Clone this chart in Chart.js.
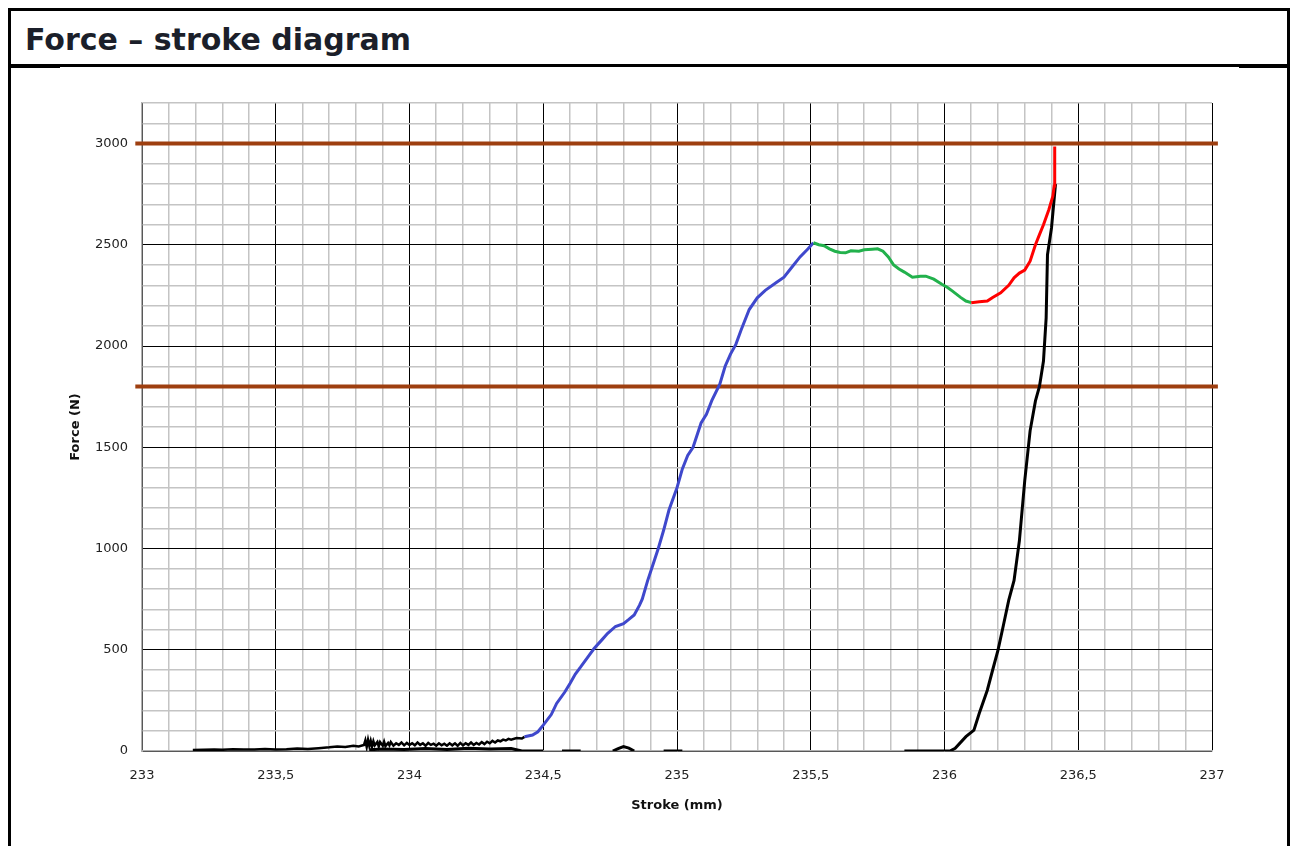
<!DOCTYPE html>
<html>
<head>
<meta charset="utf-8">
<script src="https://cdn.jsdelivr.net/npm/chart.js@4.4.1/dist/chart.umd.min.js"></script>
<style>
  html, body { margin: 0; padding: 0; background: #fff; }
  body { width: 1290px; height: 846px; position: relative; overflow: hidden; }
  .frame { position: absolute; left: 8px; top: 8px; width: 1276px; height: 850px;
           border-left: 3px solid #000; border-top: 3px solid #000; border-right: 3px solid #000; }
  .band { position: absolute; left: 11px; top: 64px; width: 1276px; height: 3px; background: #000; }
  .tick1 { position: absolute; left: 11px; top: 67px; width: 49px; height: 1px; background: #000; }
  .tick2 { position: absolute; left: 1239px; top: 67px; width: 48px; height: 1px; background: #000; }
  .title { position: absolute; left: 25px; top: 25px; font: bold 30px "DejaVu Sans", sans-serif;
           line-height: 1; color: #1b1f2a; white-space: nowrap; }
  #wrap { position: absolute; left: 12px; top: 68px; width: 1270px; height: 778px; }
</style>
</head>
<body>
<div class="frame"></div>
<div class="band"></div>
<div class="tick1"></div>
<div class="tick2"></div>
<div class="title">Force – stroke diagram</div>
<div id="wrap"><canvas id="c" width="1270" height="778"></canvas></div>
<script>
// ---- axis / tick data ----
const xLabelValues = [233, 233.5, 234, 234.5, 235, 235.5, 236, 236.5, 237];
const xTickLabels  = ['233', '233,5', '234', '234,5', '235', '235,5', '236', '236,5', '237'];
const yLabelValues = [0, 500, 1000, 1500, 2000, 2500, 3000];
const yTickLabels  = ['0', '500', '1000', '1500', '2000', '2500', '3000'];

// ---- limit lines (N) ----
const limitForces = [3000, 1800];
const limitStroke = [232.975, 237.022];

// ---- black: initial approach (near zero, noisy) ----
const strokeBase = [233.19,233.23,233.27,233.30,233.34,233.38,233.42,233.46,233.50,233.54,233.58,233.62,233.66,233.70,233.73,233.76,233.79,233.81,233.83,
  233.835,233.84,233.845,233.85,233.855,233.86,233.865,233.87,233.88,233.885,233.89,233.90,233.905,233.91,233.92,233.925,233.93,233.94,233.95,233.96,233.97,233.98,233.99,
  234.00,234.01,234.02,234.03,234.04,234.05,234.06,234.07,234.08,234.09,234.10,234.11,234.12,234.13,234.14,234.15,234.16,234.17,234.18,234.19,234.20,234.21,234.22,234.23,
  234.24,234.25,234.26,234.27,234.28,234.29,234.30,234.31,234.32,234.33,234.34,234.35,234.36,234.37,234.38,234.40,234.42,234.43];
const forceBase = [5,6,8,6,9,7,8,10,8,9,12,10,14,18,22,20,26,22,30,
  52,20,55,24,50,22,48,28,45,22,44,26,46,24,40,28,44,26,38,30,42,28,40,
  30,38,28,42,30,38,26,40,30,36,26,38,28,36,26,38,28,38,26,40,28,38,30,42,
  30,40,32,44,34,46,38,50,42,52,48,56,52,60,56,64,62,70];

// ---- blue: loading ----
const strokeBlue = [234.43,234.46,234.48,234.50,234.53,234.55,234.58,234.60,234.62,234.64,234.67,234.69,234.72,234.74,234.77,234.80,234.82,234.84,234.86,234.87,
  234.89,234.91,234.93,234.95,234.97,235.00,235.02,235.04,235.06,235.09,235.11,235.13,235.16,235.18,235.20,235.22,235.24,235.27,235.30,235.33,235.37,235.40,235.43,235.46,235.49,235.51];
const forceBlue = [70,79,95,128,180,235,290,333,380,415,470,506,550,580,615,629,650,672,720,750,
  840,920,1000,1090,1190,1300,1393,1460,1500,1620,1663,1730,1811,1900,1960,2008,2080,2180,2238,2275,2312,2340,2390,2440,2480,2510];

// ---- green ----
const strokeGreen = [235.51,235.53,235.55,235.57,235.59,235.61,235.63,235.65,235.68,235.70,235.73,235.75,235.77,235.79,235.81,235.83,235.85,235.88,235.91,235.93,235.96,235.99,236.01,236.03,236.06,236.08,236.10];
const forceGreen = [2510,2500,2495,2480,2468,2462,2460,2470,2468,2475,2478,2480,2468,2440,2400,2380,2365,2340,2345,2345,2330,2305,2290,2271,2240,2222,2214];

// ---- red ----
const strokeRed = [236.10,236.13,236.16,236.18,236.21,236.24,236.26,236.28,236.30,236.32,236.34,236.355,236.37,236.39,236.405,236.41,236.412,236.412];
const forceRed = [2214,2218,2222,2240,2263,2300,2337,2360,2375,2419,2500,2550,2599,2673,2740,2790,2894,2985];

// ---- black: return ----
const strokeReturn = [236.415,236.40,236.385,236.38,236.37,236.355,236.34,236.32,236.30,236.28,236.26,236.24,236.22,236.20,236.18,236.16,236.13,236.11,236.08,236.04,236.02,
  235.85,235.85,235.02,234.95,234.95,234.84,234.82,234.80,234.78,234.76,234.76,234.64,234.57,234.57,234.50,234.42,
  234.38,234.30,234.22,234.14,234.06,233.98,233.90,233.85];
const forceReturn = [2800,2583,2451,2139,1926,1800,1729,1581,1335,1039,842,744,620,498,400,300,186,103,71,13,0,
  0,null,0,0,null,0,14,22,12,0,null,0,0,null,0,0,
  12,10,14,8,12,8,10,6];

const pts = (xs, ys) => xs.map((x, i) => ({ x: x, y: ys[i] }));
const near = (v, arr) => arr.findIndex(a => Math.abs(a - v) < 1e-6);

const lineDs = (label, xs, ys, color, w) => ({
  label, data: pts(xs, ys), borderColor: color, backgroundColor: color,
  borderWidth: w, pointRadius: 0, showLine: true, tension: 0, spanGaps: false
});

const datasets = [
  lineDs('Red', strokeRed, forceRed, '#ff0000', 3),
  lineDs('Return', strokeReturn, forceReturn, '#000000', 3),
  lineDs('Green', strokeGreen, forceGreen, '#22b14c', 3),
  lineDs('Blue', strokeBlue, forceBlue, '#3f48cc', 3),
  lineDs('Base', strokeBase, forceBase, '#000000', 2.5),
];
limitForces.forEach((f, i) => {
  const d = lineDs('Limit ' + i, limitStroke, limitStroke.map(() => f), '#9e3f10', 4);
  d.clip = false;
  datasets.push(d);
});

new Chart(document.getElementById('c'), {
  type: 'scatter',
  data: { datasets },
  options: {
    responsive: false,
    animation: false,
    devicePixelRatio: 1,
    layout: { padding: { left: 52, top: 35, right: 70, bottom: 29 } },
    plugins: { legend: { display: false }, tooltip: { enabled: false } },
    scales: {
      x: {
        type: 'linear', min: 233, max: 237,
        afterFit: s => { s.height = 66; },
        ticks: {
          stepSize: 0.1, autoSkip: false, maxTicksLimit: 100, maxRotation: 0,
          padding: 17, color: '#222',
          font: { family: 'DejaVu Sans', size: 13 },
          callback: v => { const i = near(v, xLabelValues); return i >= 0 ? xTickLabels[i] : ''; }
        },
        grid: {
          drawTicks: false,
          color: c => near(c.tick.value, xLabelValues) >= 0 ? '#000' : '#c4c4c4',
          lineWidth: c => near(c.tick.value, xLabelValues) >= 0 ? 1 : 1.5
        },
        border: { color: '#b0b0b0', width: 1.5 },
        title: { display: true, text: 'Stroke (mm)', color: '#111',
                 font: { family: 'DejaVu Sans', size: 13, weight: 'bold' } }
      },
      y: {
        type: 'linear', min: 0, max: 3200,
        afterFit: s => { s.width = 78; },
        ticks: {
          stepSize: 100, autoSkip: false, maxTicksLimit: 100,
          padding: 14, color: '#222',
          font: { family: 'DejaVu Sans', size: 13 },
          callback: v => { const i = near(v, yLabelValues); return i >= 0 ? yTickLabels[i] : ''; }
        },
        grid: {
          drawTicks: false,
          color: c => near(c.tick.value, yLabelValues) >= 0 ? '#000' : '#c4c4c4',
          lineWidth: c => near(c.tick.value, yLabelValues) >= 0 ? 1 : 1.5
        },
        border: { color: '#b0b0b0', width: 1.5 },
        title: { display: true, text: 'Force (N)', color: '#111',
                 font: { family: 'DejaVu Sans', size: 13, weight: 'bold' } }
      }
    }
  }
});
</script>
</body>
</html>
